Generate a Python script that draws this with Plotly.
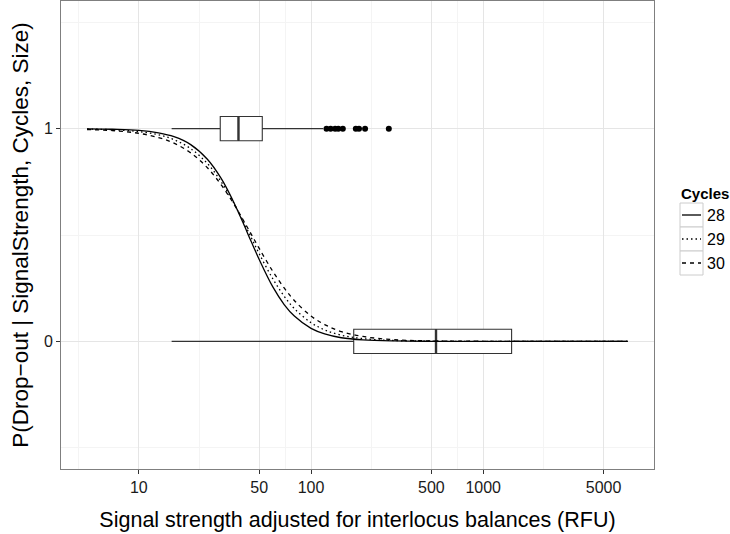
import plotly.graph_objects as go

# ---- data ----
signal = [5, 7, 10, 13, 16, 20, 25, 30, 35, 40, 45, 50, 60, 70, 80, 100, 120, 150, 200, 300, 500, 1000, 6890]
p_cyc28 = [0.999, 0.997, 0.992, 0.980, 0.962, 0.925, 0.856, 0.767, 0.666, 0.563, 0.468, 0.385, 0.256, 0.172, 0.119, 0.061, 0.035, 0.017, 0.007, 0.002, 0.0003, 0.0, 0.0]
p_cyc29 = [0.998, 0.995, 0.986, 0.971, 0.948, 0.906, 0.836, 0.752, 0.661, 0.571, 0.487, 0.412, 0.294, 0.211, 0.154, 0.088, 0.054, 0.029, 0.013, 0.004, 0.001, 0.0001, 0.0]
p_cyc30 = [0.996, 0.991, 0.978, 0.958, 0.932, 0.886, 0.816, 0.737, 0.656, 0.576, 0.503, 0.437, 0.329, 0.250, 0.192, 0.119, 0.079, 0.046, 0.023, 0.008, 0.002, 0.0004, 0.0]
cycles = ["28", "29", "30"]

# boxplot summaries of signal strength by drop-out status (0 / 1)
box_groups = [1, 0]
box_low = [15.5, 15.5]
box_q1 = [29.7, 177]
box_med = [37.9, 532]
box_q3 = [52.1, 1462]
box_high = [117.8, 6890]
outliers_dropout = [123, 130, 138, 144, 153, 182, 190, 206, 283]

x_ticks = [10, 50, 100, 500, 1000, 5000]
x_minor = [4.47, 22.4, 70.7, 223.6, 707, 2236]
y_ticks = [0, 1]
y_minor = [-0.5, 0.5, 1.5]

# ---- figure ----
FONT = "Liberation Sans, Arial, Helvetica, sans-serif"
BOXW = 0.114
dashes = ["solid", "1.5px,3px", "4px,4px"]

fig = go.Figure()

for g, lo, q1, md, q3, hi in zip(box_groups, box_low, box_q1, box_med, box_q3, box_high):
    fig.add_trace(go.Box(
        y=[g], q1=[q1], median=[md], q3=[q3], lowerfence=[lo], upperfence=[hi],
        orientation="h", width=BOXW, whiskerwidth=0, boxpoints=False,
        fillcolor="white", line=dict(color="#333333", width=1.1),
        showlegend=False, hoverinfo="skip"))
    # thicker median line as in ggplot
    fig.add_trace(go.Scatter(
        x=[md, md], y=[g - BOXW / 2, g + BOXW / 2], mode="lines",
        line=dict(color="#333333", width=2.4), showlegend=False, hoverinfo="skip"))

fig.add_trace(go.Scatter(
    x=outliers_dropout, y=[1] * len(outliers_dropout), mode="markers",
    marker=dict(color="black", size=6), showlegend=False, hoverinfo="skip"))

for name, vals, d in zip(cycles, [p_cyc28, p_cyc29, p_cyc30], dashes):
    fig.add_trace(go.Scatter(
        x=signal, y=vals, mode="lines", name=name,
        line=dict(color="black", width=1.3, dash=d, shape="spline", smoothing=1.0),
        showlegend=False, hoverinfo="skip"))

fig.update_xaxes(
    type="log", range=[0.5478, 3.992],
    tickmode="array", tickvals=x_ticks, ticktext=[str(v) for v in x_ticks],
    ticks="outside", ticklen=4, tickcolor="#333333", tickwidth=1,
    tickfont=dict(family=FONT, size=16, color="#1a1a1a"),
    showgrid=True, gridcolor="#e5e5e5", gridwidth=1,
    minor=dict(tickmode="array", tickvals=x_minor, showgrid=True, gridcolor="#f4f4f4", gridwidth=1, ticks=""),
    showline=True, linecolor="#7f7f7f", linewidth=1, mirror=True, zeroline=False,
    title=dict(text="Signal strength adjusted for interlocus balances (RFU)",
               font=dict(family=FONT, size=21.5, color="black"), standoff=16),
)
fig.update_yaxes(
    range=[-0.6, 1.6],
    tickmode="array", tickvals=y_ticks, ticktext=[str(v) for v in y_ticks],
    ticks="outside", ticklen=4, tickcolor="#333333", tickwidth=1,
    tickfont=dict(family=FONT, size=16, color="#1a1a1a"),
    showgrid=True, gridcolor="#e5e5e5", gridwidth=1,
    minor=dict(tickmode="array", tickvals=y_minor, showgrid=True, gridcolor="#f4f4f4", gridwidth=1, ticks=""),
    showline=True, linecolor="#7f7f7f", linewidth=1, mirror=True, zeroline=False,
    title=dict(text="P(Drop−out | SignalStrength, Cycles, Size)",
               font=dict(family=FONT, size=22.5, color="black"), standoff=9),
)

# ---- legend drawn by hand (ggplot style keys with borders) ----
L, R, T, B = 61, 654, 1, 469
W, H = 730, 534
def px(xp):
    return (xp - L) / (R - L)
def py(yp):
    return (B - yp) / (B - T)

key_x0, key_x1 = 680, 703
key_top, key_h = 203, 24
annots = [dict(text="<b>Cycles</b>", x=px(679), y=py(193), xref="paper", yref="paper",
               xanchor="left", yanchor="middle", showarrow=False,
               font=dict(family=FONT, size=15, color="black"))]
shapes = []
for i, (name, d) in enumerate(zip(cycles, dashes)):
    y0 = key_top + i * key_h
    y1 = y0 + key_h
    shapes.append(dict(type="rect", xref="paper", yref="paper",
                       x0=px(key_x0), x1=px(key_x1), y0=py(y1), y1=py(y0),
                       line=dict(color="#cccccc", width=1), fillcolor="white", layer="above"))
    ym = (y0 + y1) / 2
    shapes.append(dict(type="line", xref="paper", yref="paper",
                       x0=px(key_x0 + 2), x1=px(key_x1 - 2), y0=py(ym), y1=py(ym),
                       line=dict(color="black", width=1.3, dash=d), layer="above"))
    annots.append(dict(text=name, x=px(key_x1 + 2), y=py(ym), xref="paper", yref="paper",
                       xanchor="left", yanchor="middle", showarrow=False,
                       font=dict(family=FONT, size=16, color="black")))

fig.update_layout(
    width=W, height=H,
    margin=dict(l=L, r=W - R, t=T, b=H - B, autoexpand=False),
    paper_bgcolor="white", plot_bgcolor="white",
    showlegend=False, annotations=annots, shapes=shapes,
)

fig.write_html("out.html")
